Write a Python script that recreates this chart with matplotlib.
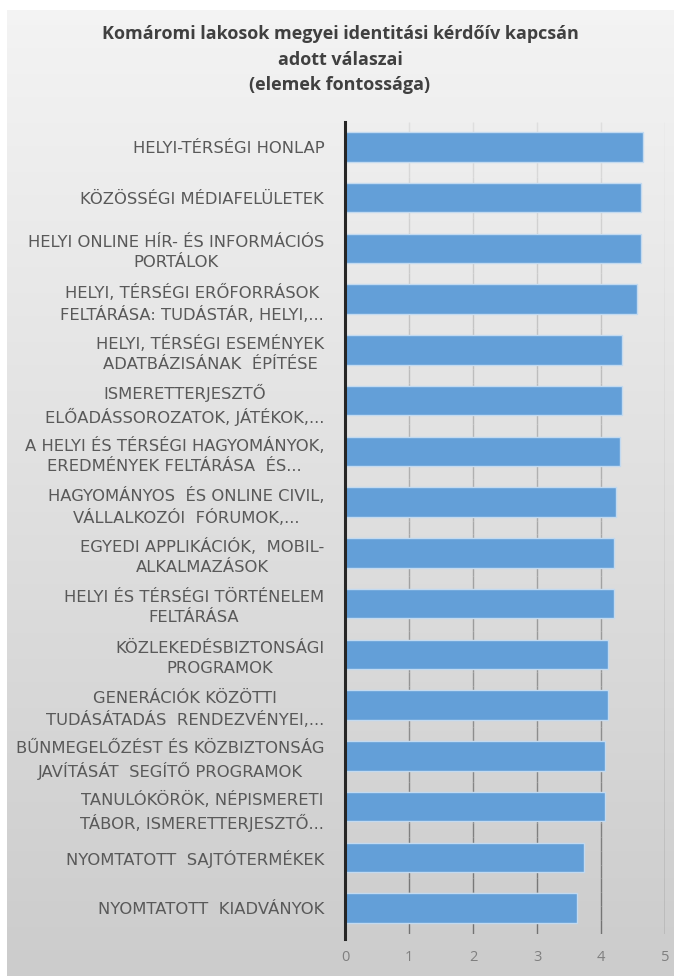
import numpy as np
import matplotlib.pyplot as plt
from matplotlib.collections import LineCollection

title = "Komáromi lakosok megyei identitási kérdőív kapcsán\nadott válaszai\n(elemek fontossága)"

labels = [
    "HELYI-TÉRSÉGI HONLAP",
    "KÖZÖSSÉGI MÉDIAFELÜLETEK",
    "HELYI ONLINE HÍR- ÉS INFORMÁCIÓS\nPORTÁLOK",
    "HELYI, TÉRSÉGI ERŐFORRÁSOK\nFELTÁRÁSA: TUDÁSTÁR, HELYI,...",
    "HELYI, TÉRSÉGI ESEMÉNYEK\nADATBÁZISÁNAK  ÉPÍTÉSE",
    "ISMERETTERJESZTŐ\nELŐADÁSSOROZATOK, JÁTÉKOK,...",
    "A HELYI ÉS TÉRSÉGI HAGYOMÁNYOK,\nEREDMÉNYEK FELTÁRÁSA  ÉS...",
    "HAGYOMÁNYOS  ÉS ONLINE CIVIL,\nVÁLLALKOZÓI  FÓRUMOK,...",
    "EGYEDI APPLIKÁCIÓK,  MOBIL-\nALKALMAZÁSOK",
    "HELYI ÉS TÉRSÉGI TÖRTÉNELEM\nFELTÁRÁSA",
    "KÖZLEKEDÉSBIZTONSÁGI\nPROGRAMOK",
    "GENERÁCIÓK KÖZÖTTI\nTUDÁSÁTADÁS  RENDEZVÉNYEI,...",
    "BŰNMEGELŐZÉST ÉS KÖZBIZTONSÁG\nJAVÍTÁSÁT  SEGÍTŐ PROGRAMOK",
    "TANULÓKÖRÖK, NÉPISMERETI\nTÁBOR, ISMERETTERJESZTŐ...",
    "NYOMTATOTT  SAJTÓTERMÉKEK",
    "NYOMTATOTT  KIADVÁNYOK",
]
values = [4.66, 4.62, 4.62, 4.57, 4.33, 4.33, 4.29, 4.24,
          4.20, 4.20, 4.11, 4.11, 4.06, 4.07, 3.74, 3.63]
xticks = [0, 1, 2, 3, 4, 5]

W, H = 674, 976
fig = plt.figure(figsize=(W / 100, H / 100), dpi=100)
fig.patch.set_facecolor('white')

# grey gradient background (white strip at top and left)
bg = fig.add_axes([7 / W, 0, 1 - 7 / W, 1 - 10 / H])
grad = np.linspace(0.955, 0.80, 256).reshape(-1, 1)
bg.imshow(np.dstack([grad, grad, grad]), aspect='auto', extent=[0, 1, 0, 1])
bg.set_axis_off()

ax = fig.add_axes([345 / W, 1 - 933.5 / H, (665 - 345) / W, (933.5 - 121.5) / H])
ax.set_facecolor('none')

y = np.arange(len(labels))
ax.barh(y, values, height=0.58, color='#639fd8', edgecolor='#c3daf0', linewidth=1, zorder=3)
ax.set_ylim(len(labels) - 0.5, -0.5)
ax.set_xlim(0, 5)

# gridlines that darken towards the bottom, like the original
ys = np.linspace(-0.5, len(labels) - 0.5, 60)
for xv in xticks[1:]:
    segs = [[(xv, ys[i]), (xv, ys[i + 1])] for i in range(len(ys) - 1)]
    shade = np.linspace(0.87, 0.45, len(segs))
    cols = [(s, s, s) for s in shade]
    ax.add_collection(LineCollection(segs, colors=cols, linewidths=1, zorder=1))

ax.plot([0, 0], [-0.5, len(labels) - 0.4], color='#262626', lw=2.2, zorder=4, clip_on=False)

for s in ax.spines.values():
    s.set_visible(False)

ax.set_yticks(y)
ax.set_yticklabels(labels, fontsize=11.8, color='#595959', family='DejaVu Sans', linespacing=1.4)
for t in ax.get_yticklabels():
    t.set_multialignment('center')
ax.tick_params(axis='y', length=0, pad=15)

ax.set_xticks(xticks)
ax.set_xticklabels([str(v) for v in xticks], fontsize=10.5, color='#7f7f7f', family='Open Sans')
ax.tick_params(axis='x', length=0, pad=12)

fig.text(340 / W, 1 - 25 / H, title, ha='center', va='top', fontsize=13, fontweight='bold',
         color='#404040', family='Open Sans', linespacing=1.55)

fig.savefig('out.png', dpi=100)
